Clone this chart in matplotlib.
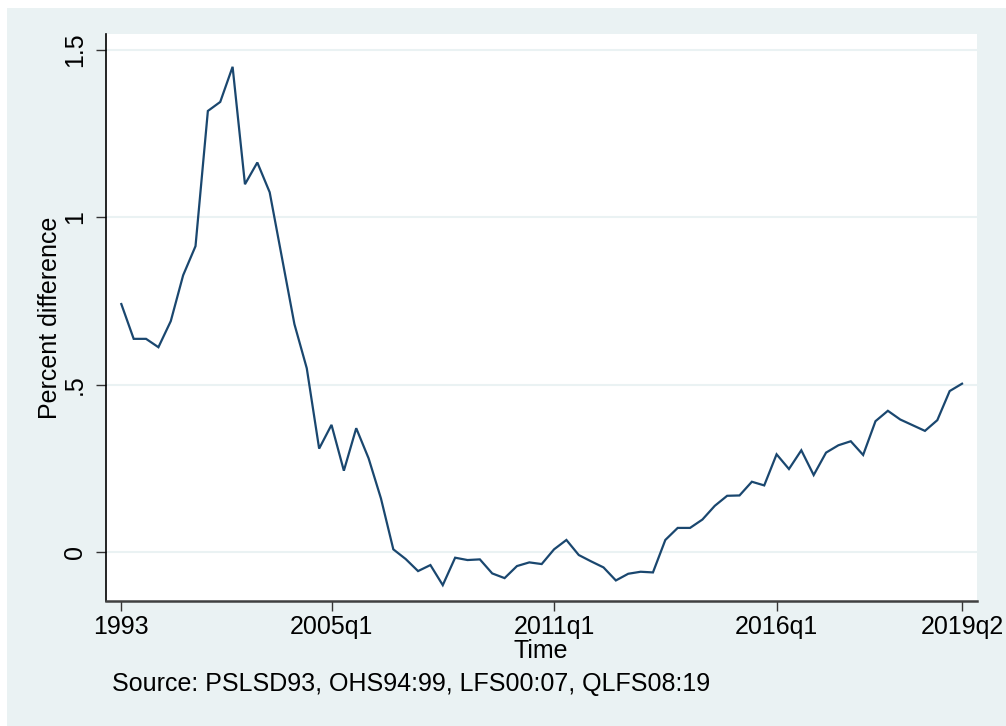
import matplotlib
matplotlib.use("Agg")
import matplotlib.pyplot as plt
from matplotlib.patches import Rectangle
from matplotlib.ticker import FixedLocator, FuncFormatter

plt.rcParams['font.family'] = ['Liberation Sans', 'DejaVu Sans']

values = [0.741, 0.637, 0.637, 0.612, 0.690, 0.827, 0.914, 1.318, 1.345, 1.450,
          1.099, 1.164, 1.075, 0.878, 0.681, 0.549, 0.309, 0.380, 0.243, 0.370,
          0.280, 0.160, 0.008, -0.021, -0.057, -0.039, -0.099, -0.017, -0.024, -0.022,
          -0.064, -0.078, -0.042, -0.031, -0.036, 0.008, 0.036, -0.009, -0.028, -0.046,
          -0.085, -0.065, -0.059, -0.061, 0.036, 0.072, 0.072, 0.097, 0.138, 0.168,
          0.169, 0.210, 0.199, 0.292, 0.248, 0.304, 0.230, 0.297, 0.319, 0.331,
          0.290, 0.391, 0.422, 0.396, 0.379, 0.362, 0.394, 0.481, 0.503]
xtick_positions = [0, 17, 35, 53, 68]
xtick_labels = ["1993", "2005q1", "2011q1", "2016q1", "2019q2"]
ytick_values = [0, 0.5, 1, 1.5]
ytick_labels = ["0", ".5", "1", "1.5"]

W, H = 1006, 726
FS = 18
fig = plt.figure(figsize=(W / 100, H / 100), dpi=100)
fig.patch.set_facecolor("white")
fig.add_artist(Rectangle((7 / W, 0), 1 - 7 / W, 1 - 8 / H, transform=fig.transFigure,
                         facecolor="#EAF2F3", edgecolor="none", zorder=0))

ax = fig.add_axes([105.5 / W, (H - 600.7) / H, (977 - 105.5) / W, (600.7 - 34) / H])
ax.set_facecolor("white")

x = list(range(len(values)))
ax.plot(x, values, color="#1A476F", linewidth=1.6, solid_joinstyle="miter", zorder=3)

ax.set_xlim(-1.28, 69.21)
ax.set_ylim(-0.1455, 1.548)

ax.xaxis.set_major_locator(FixedLocator(xtick_positions))
ax.set_xticklabels(xtick_labels)
ax.yaxis.set_major_locator(FixedLocator(ytick_values))
ax.yaxis.set_major_formatter(FuncFormatter(lambda v, p: ytick_labels[ytick_values.index(v)] if v in ytick_values else ""))

for t in ax.get_yticklabels():
    t.set_rotation(90)
    t.set_va("center")

ax.tick_params(axis="both", labelsize=FS, length=7.2, width=1.0, color="#333333", labelcolor="black")
ax.tick_params(axis="x", pad=3)
ax.tick_params(axis="y", pad=6)

ax.grid(axis="y", color="#EAF2F3", linewidth=1.5)
ax.set_axisbelow(True)

for s in ["top", "right"]:
    ax.spines[s].set_visible(False)
ax.spines["left"].set_color("black")
ax.spines["left"].set_linewidth(1.2)
ax.spines["bottom"].set_color("#404040")
ax.spines["bottom"].set_linewidth(1.8)

ax.set_xlabel("Time", fontsize=FS, labelpad=0)
ax.set_ylabel("Percent difference", fontsize=FS, labelpad=1)

fig.text(112 / W, 1 - 684 / H, "Source: PSLSD93, OHS94:99, LFS00:07, QLFS08:19",
         fontsize=FS, ha="left", va="center")

fig.savefig("out.png", dpi=100)
